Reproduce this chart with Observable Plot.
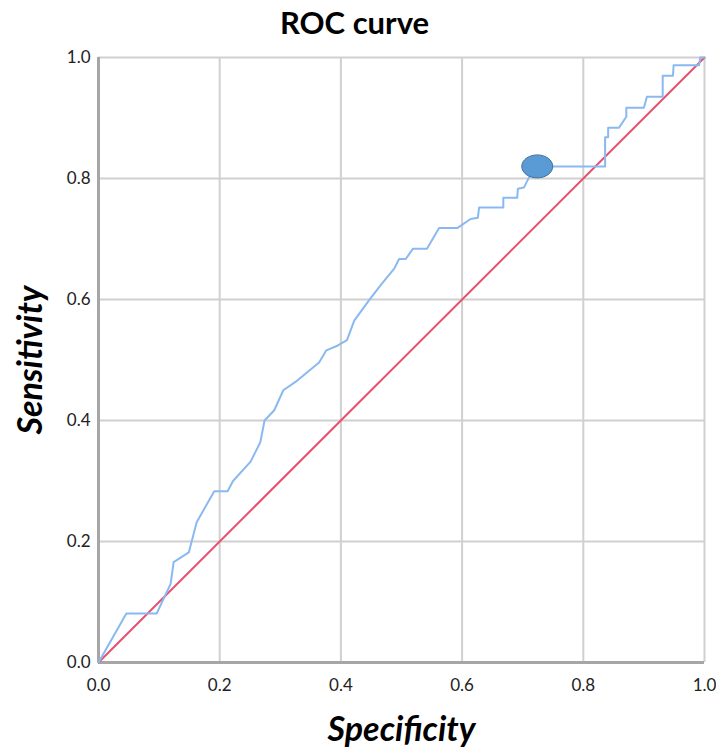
<!DOCTYPE html>
<html>
<head>
<meta charset="utf-8">
<script src="https://cdn.jsdelivr.net/npm/d3@7"></script>
<script src="https://cdn.jsdelivr.net/npm/@observablehq/plot@0.6"></script>
<style>
  html, body { margin: 0; padding: 0; background: #fff; }
  #chart svg { display: block; }
</style>
</head>
<body>
<div id="chart"></div>
<script>
const titleText = "ROC curve";
const xLabel = "Specificity";
const yLabel = "Sensitivity";

const tickValues = [0, 0.2, 0.4, 0.6, 0.8, 1.0];
const gridValues = [0.2, 0.4, 0.6, 0.8, 1.0];

const rocX = [0, 0.046, 0.096, 0.119, 0.124, 0.149, 0.162, 0.191, 0.213, 0.222,
  0.251, 0.267, 0.274, 0.290, 0.305, 0.328, 0.364, 0.376, 0.395, 0.410,
  0.422, 0.446, 0.465, 0.488, 0.496, 0.507, 0.519, 0.542, 0.562, 0.592,
  0.614, 0.626, 0.628, 0.668, 0.668, 0.691, 0.692, 0.702, 0.710, 0.724,
  0.836, 0.836, 0.841, 0.841, 0.859, 0.871, 0.871, 0.900, 0.905, 0.931,
  0.931, 0.948, 0.949, 0.991, 0.993, 1.0];
const rocY = [0, 0.081, 0.081, 0.130, 0.166, 0.182, 0.232, 0.283, 0.283, 0.300,
  0.332, 0.364, 0.400, 0.417, 0.450, 0.466, 0.496, 0.516, 0.524, 0.533,
  0.565, 0.598, 0.623, 0.651, 0.667, 0.667, 0.684, 0.684, 0.718, 0.718,
  0.733, 0.735, 0.752, 0.752, 0.768, 0.768, 0.783, 0.785, 0.801, 0.820,
  0.820, 0.868, 0.868, 0.884, 0.884, 0.902, 0.917, 0.917, 0.935, 0.935,
  0.970, 0.970, 0.987, 0.987, 1.0, 1.0];

const refX = [0, 1];
const refY = [0, 1];

const markerX = [0.724];
const markerY = [0.820];

const roc = rocX.map((x, i) => ({x, y: rocY[i]}));
const ref = refX.map((x, i) => ({x, y: refY[i]}));
const marker = markerX.map((x, i) => ({x, y: markerY[i]}));

const ellipseSymbol = {
  draw(ctx) {
    const a = 15.5, b = 11.5, k = 0.5523;
    ctx.moveTo(a, 0);
    ctx.bezierCurveTo(a, b * k, a * k, b, 0, b);
    ctx.bezierCurveTo(-a * k, b, -a, b * k, -a, 0);
    ctx.bezierCurveTo(-a, -b * k, -a * k, -b, 0, -b);
    ctx.bezierCurveTo(a * k, -b, a, -b * k, a, 0);
    ctx.closePath();
  }
};

const font = "Lato, 'Open Sans', sans-serif";

const chart = Plot.plot({
  width: 716,
  height: 747,
  marginLeft: 98,
  marginRight: 12,
  marginTop: 57,
  marginBottom: 85,
  style: {fontFamily: font, fontSize: "17px", color: "#222"},
  x: {domain: [0, 1], ticks: tickValues, tickFormat: d3.format(".1f"), tickSize: 0, tickPadding: 16, label: null},
  y: {domain: [0, 1], ticks: tickValues, tickFormat: d3.format(".1f"), tickSize: 0, tickPadding: 8, label: null},
  marks: [
    Plot.ruleX(gridValues, {stroke: "#d0d0d0", strokeWidth: 2}),
    Plot.ruleY(gridValues, {stroke: "#d0d0d0", strokeWidth: 2}),
    Plot.ruleX([0], {stroke: "#a6a6a6", strokeWidth: 3}),
    Plot.ruleY([0], {stroke: "#a6a6a6", strokeWidth: 3}),
    Plot.line(ref, {x: "x", y: "y", stroke: "#e8506e", strokeWidth: 2}),
    Plot.line(roc, {x: "x", y: "y", stroke: "#8ab9f1", strokeWidth: 2, curve: "linear"}),
    Plot.dot(marker, {x: "x", y: "y", symbol: ellipseSymbol, fill: "#5b9bd5", stroke: "#41719c", strokeWidth: 1, r: 12}),
    Plot.text([titleText], {frameAnchor: "top", textAnchor: "middle", lineAnchor: "middle", dx: -47, dy: -33, fontSize: 31, fontWeight: "bold", fill: "#000", fontFamily: font}),
    Plot.text([xLabel], {frameAnchor: "bottom", textAnchor: "middle", lineAnchor: "middle", dy: 68, fontSize: 34, fontWeight: "bold", fontStyle: "italic", fill: "#000", fontFamily: font}),
    Plot.text([yLabel], {frameAnchor: "left", textAnchor: "middle", lineAnchor: "middle", dx: -67, rotate: -90, fontSize: 34, fontWeight: "bold", fontStyle: "italic", fill: "#000", fontFamily: font})
  ]
});
document.getElementById("chart").appendChild(chart);
</script>
</body>
</html>
